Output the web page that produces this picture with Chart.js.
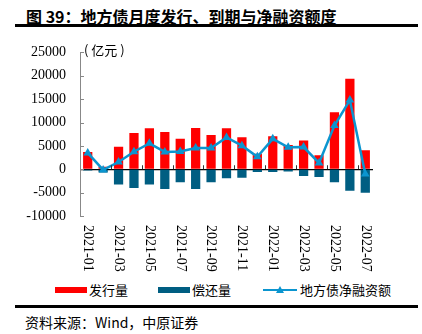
<!DOCTYPE html>
<html>
<head>
<meta charset="utf-8">
<script src="https://cdn.jsdelivr.net/npm/chart.js@4"></script>
<style>
  body { margin: 0; background: #fff; width: 422px; height: 334px; position: relative; overflow: hidden; }
  .title { position: absolute; left: 26px; top: 4px; font: bold 16px "Noto Sans CJK SC", sans-serif; color: #000; white-space: nowrap; }
  .rule { position: absolute; left: 15px; width: 403px; background: #000; }
  .unit { position: absolute; left: 84px; top: 40px; font: 13px "Noto Sans CJK SC", serif; color: #000; }
  #chart { position: absolute; left: 0; top: 30px; }
  .legend { position: absolute; top: 280px; left: 55px; display: flex; align-items: center; font: 13px "Noto Sans CJK SC", sans-serif; color: #000; white-space: nowrap; }
  .legend .box { display: inline-block; width: 32px; height: 6px; margin-right: 2px; }
  .legend .item { display: flex; align-items: center; }
  .source { position: absolute; left: 25px; top: 312px; font: 14px "Noto Sans CJK SC", sans-serif; color: #000; white-space: nowrap; }
</style>
</head>
<body>
<div class="title">图 39：地方债月度发行、到期与净融资额度</div>
<div class="rule" style="top:24px;height:3px"></div>
<canvas id="chart" width="422" height="250"></canvas>
<div class="unit">( 亿元 )</div>
<div class="legend">
  <span class="item"><span class="box" style="background:#ff0000"></span>发行量</span>
  <span class="item" style="margin-left:30px"><span class="box" style="background:#005e82"></span>偿还量</span>
  <span class="item" style="margin-left:32px">
    <svg width="36" height="10" style="margin-right:1px"><line x1="0" y1="5" x2="34" y2="5" stroke="#0b95cf" stroke-width="2"/><path d="M17 1 L21 8 L13 8 Z" fill="#0b95cf"/></svg>地方债净融资额
  </span>
</div>
<div class="rule" style="top:305px;height:3px"></div>
<div class="source">资料来源：Wind，中原证券</div>

<script>
const months = ["2021-01", "2021-02", "2021-03", "2021-04", "2021-05", "2021-06", "2021-07",
  "2021-08", "2021-09", "2021-10", "2021-11", "2021-12", "2022-01", "2022-02", "2022-03",
  "2022-04", "2022-05", "2022-06", "2022-07"];
// 亿元
const issuance = [3700, 550, 4800, 7750, 8750, 7950, 6550, 8800, 7350, 8750, 6850, 3300, 7050, 5200, 6150, 3000, 12200, 19350, 4050];
const repayment = [-250, -700, -3250, -4000, -3250, -4250, -2800, -4250, -2800, -1950, -1800, -600, -600, -500, -1450, -1650, -2800, -4600, -5050];
const netFinancing = [3500, -150, 1550, 3750, 5550, 3700, 3800, 4550, 4550, 6800, 5050, 2650, 6500, 4700, 4750, 1350, 9350, 14800, -1000];
const yTicks = [-10000, -5000, 0, 5000, 10000, 15000, 20000, 25000];

const RED = "#ff0000";
const TEAL = "#005e82";
const BLUE = "#0b95cf";

// rotated month labels (every other month), small tick marks on the zero line,
// and inward ticks on the value axis
const axisDecor = {
  id: "axisDecor",
  afterDraw(chart) {
    const { ctx, scales: { x, y } } = chart;
    const zeroY = y.getPixelForValue(0);
    ctx.save();

    ctx.strokeStyle = "#888";
    ctx.lineWidth = 1;
    yTicks.forEach((v) => {
      const py = Math.round(y.getPixelForValue(v)) + 0.5;
      ctx.beginPath();
      ctx.moveTo(x.left, py);
      ctx.lineTo(x.left + 4, py);
      ctx.stroke();
    });

    ctx.strokeStyle = "#333";
    for (let k = 2; k < months.length; k += 2) {
      const bx = Math.round((x.getPixelForValue(k - 1) + x.getPixelForValue(k)) / 2) + 0.5;
      ctx.beginPath();
      ctx.moveTo(bx, zeroY);
      ctx.lineTo(bx, zeroY - 4);
      ctx.stroke();
    }

    ctx.fillStyle = "#000";
    ctx.font = '14px "Liberation Serif", serif';
    ctx.textAlign = "left";
    ctx.textBaseline = "middle";
    months.forEach((m, i) => {
      if (i % 2) return;
      ctx.save();
      ctx.translate(x.getPixelForValue(i), y.bottom + 9);
      ctx.rotate(Math.PI / 2);
      ctx.fillText(m, 0, 0);
      ctx.restore();
    });
    ctx.restore();
  },
};

new Chart(document.getElementById("chart"), {
  data: {
    labels: months,
    datasets: [
      {
        type: "line",
        label: "地方债净融资额",
        data: netFinancing,
        borderColor: BLUE,
        backgroundColor: BLUE,
        borderWidth: 2.5,
        pointStyle: "triangle",
        pointRadius: 5,
        pointBorderWidth: 0,
        tension: 0,
        order: 0,
      },
      {
        type: "bar",
        label: "发行量",
        data: issuance,
        backgroundColor: RED,
        barPercentage: 0.6,
        categoryPercentage: 1,
        order: 1,
      },
      {
        type: "bar",
        label: "偿还量",
        data: repayment,
        backgroundColor: TEAL,
        barPercentage: 0.6,
        categoryPercentage: 1,
        order: 2,
      },
    ],
  },
  options: {
    responsive: false,
    animation: false,
    layout: { padding: { top: 11, right: 49, left: 0, bottom: 0 } },
    plugins: { legend: { display: false }, tooltip: { enabled: false } },
    scales: {
      x: {
        stacked: true,
        grid: { display: false },
        border: { display: false },
        ticks: { display: false },
        afterFit: (s) => { s.height = 64; },
      },
      y: {
        min: -10000,
        max: 25000,
        afterBuildTicks: (s) => { s.ticks = yTicks.map((v) => ({ value: v })); },
        ticks: {
          color: "#000",
          padding: 14,
          font: { family: "Liberation Serif", size: 14 },
          callback: (v) => String(v),
        },
        grid: {
          drawTicks: false,
          tickLength: 0,
          color: (c) => (c.tick && c.tick.value === 0 ? "#000" : "rgba(0,0,0,0)"),
          lineWidth: 1.2,
        },
        border: { color: "#888", width: 1 },
        afterFit: (s) => { s.width = 80; },
      },
    },
  },
  plugins: [axisDecor],
});
</script>
</body>
</html>
